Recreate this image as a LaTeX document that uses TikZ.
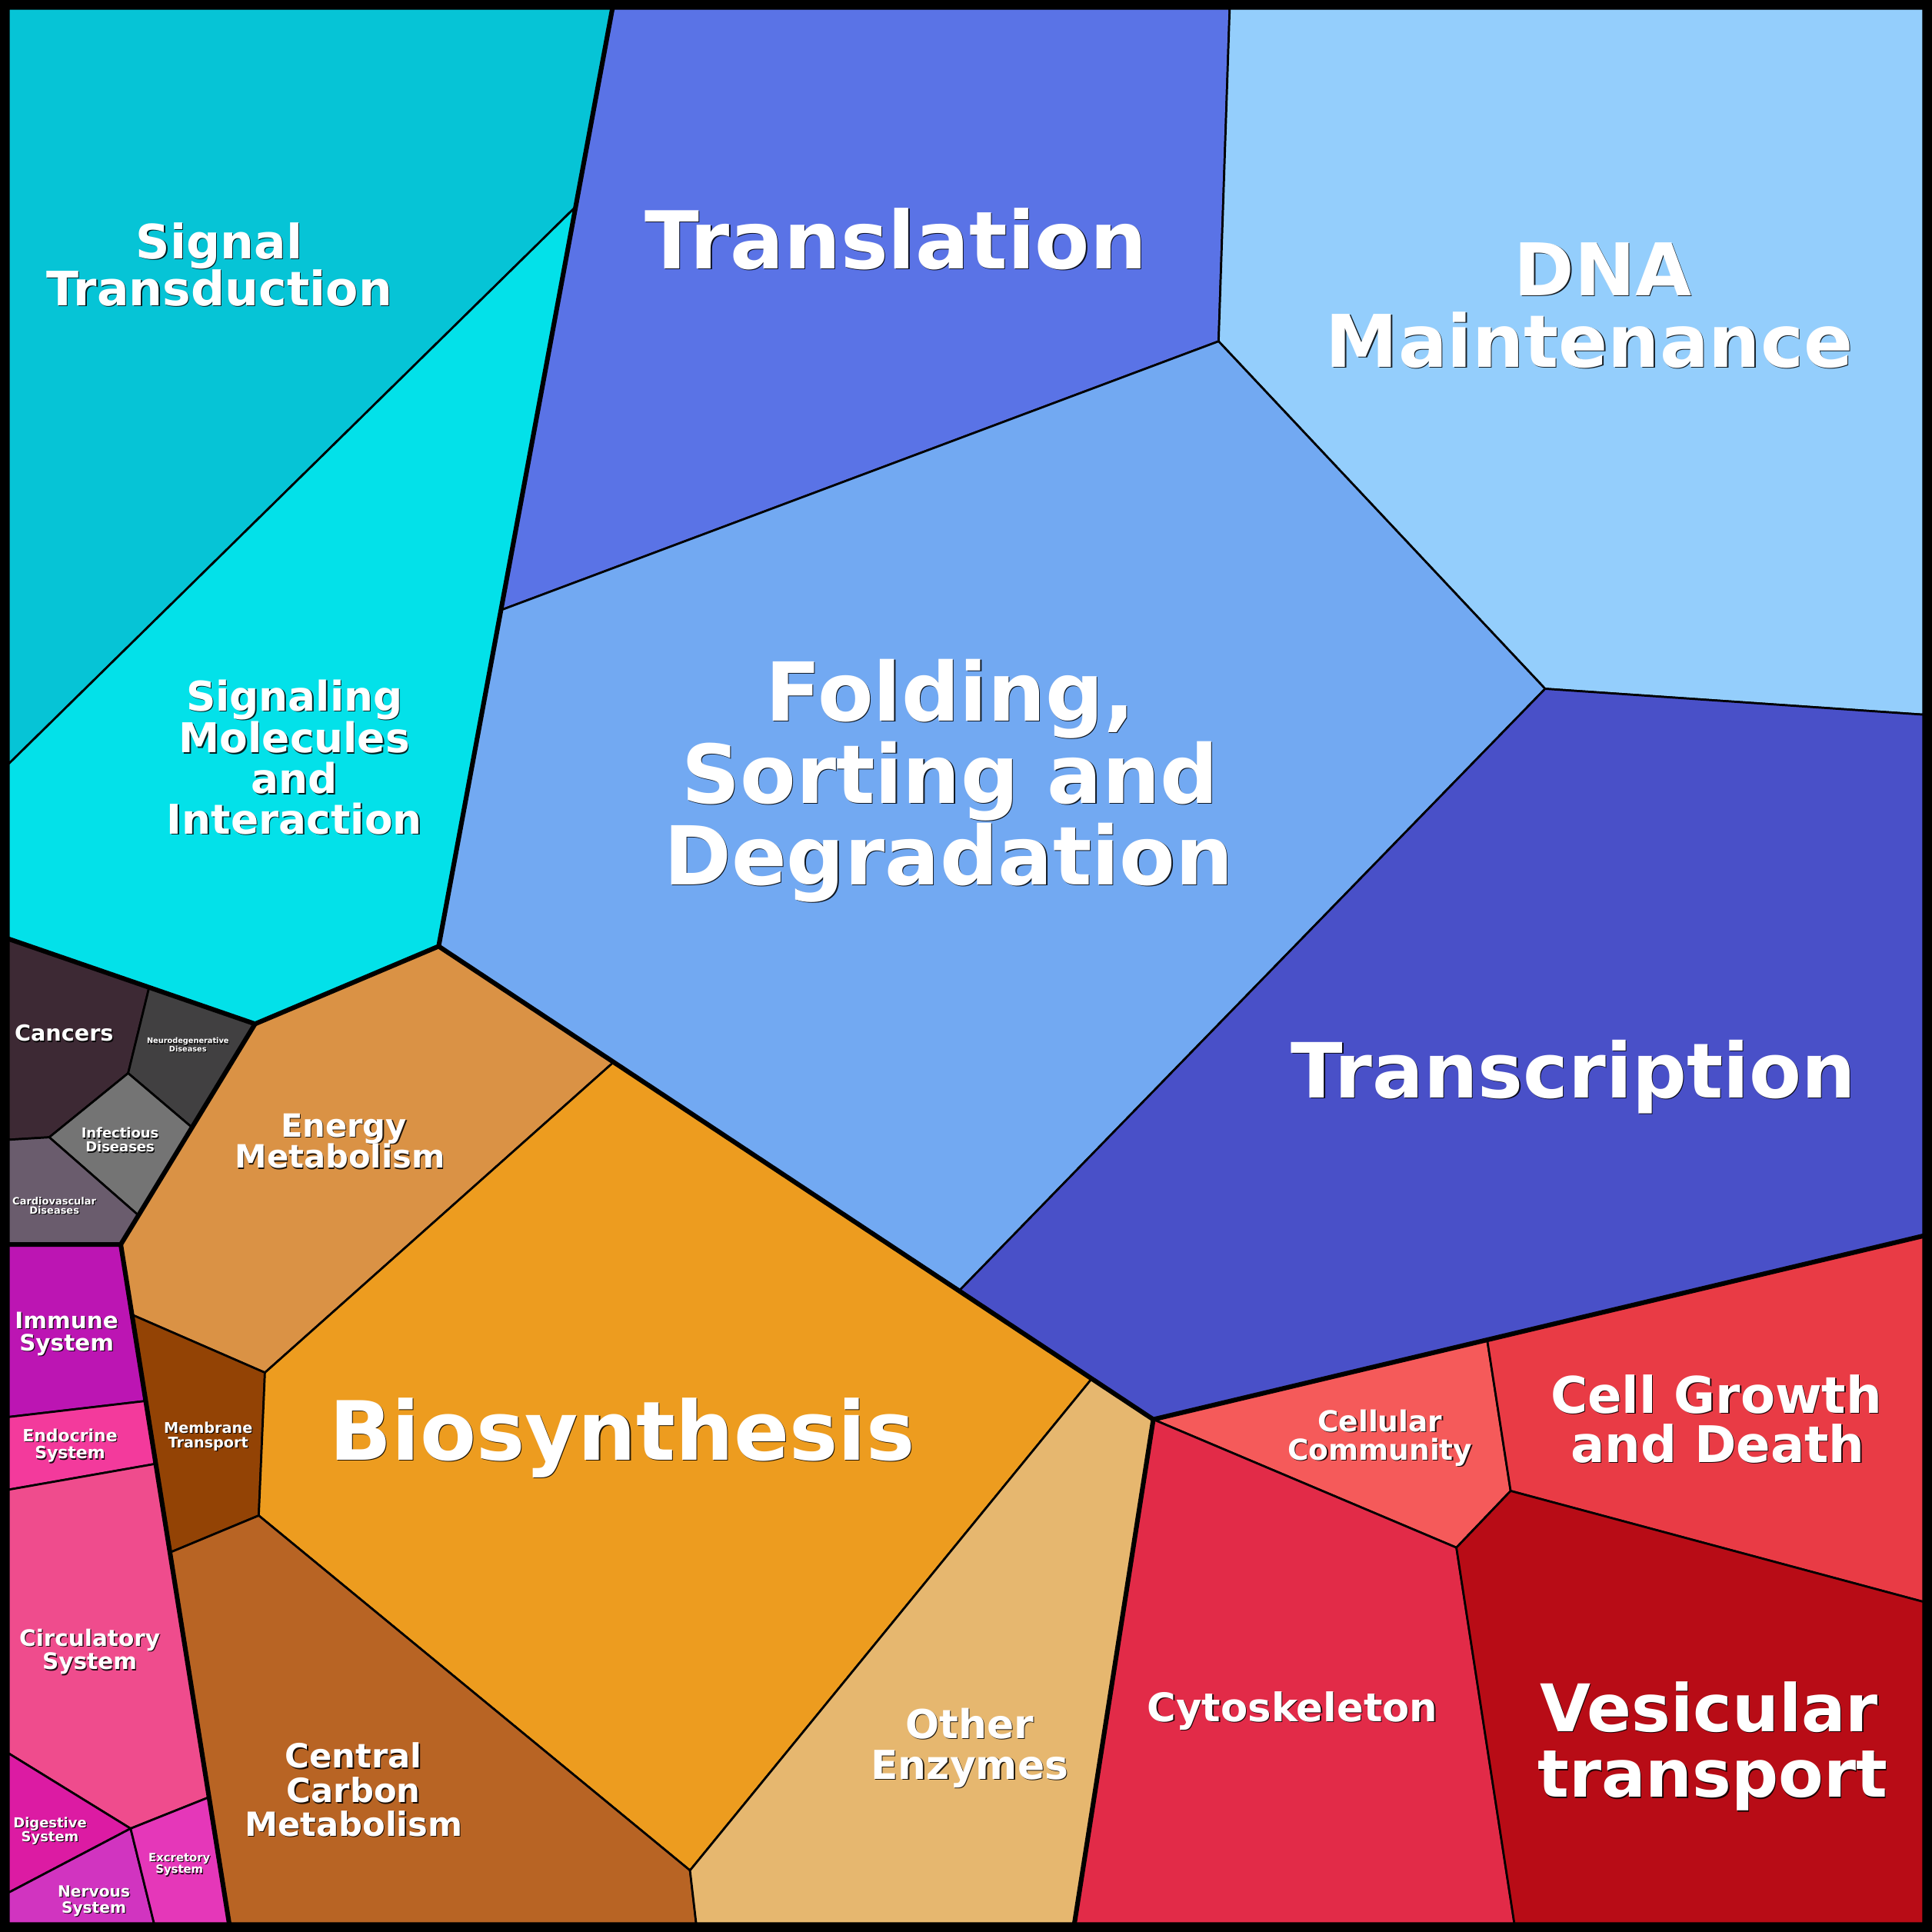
\documentclass[tikz,border=0pt]{standalone}
\usepackage{fontspec}
\setmainfont{DejaVu Sans}
\definecolor{cSig}{HTML}{06C4D6}
\definecolor{cMol}{HTML}{03E1E9}
\definecolor{cTrl}{HTML}{5A73E6}
\definecolor{cDNA}{HTML}{94CEFC}
\definecolor{cFol}{HTML}{72A9F2}
\definecolor{cTrc}{HTML}{4950C8}
\definecolor{cEne}{HTML}{DA9245}
\definecolor{cBio}{HTML}{ED9C1F}
\definecolor{cMem}{HTML}{934305}
\definecolor{cCen}{HTML}{B86424}
\definecolor{cOth}{HTML}{E6B76F}
\definecolor{cCom}{HTML}{F55A5A}
\definecolor{cGro}{HTML}{E93B45}
\definecolor{cCyt}{HTML}{E22B48}
\definecolor{cVes}{HTML}{B80C16}
\definecolor{cCan}{HTML}{3D2934}
\definecolor{cNeu}{HTML}{414041}
\definecolor{cInf}{HTML}{747474}
\definecolor{cCar}{HTML}{6A5C6D}
\definecolor{cImm}{HTML}{BC15B3}
\definecolor{cEnd}{HTML}{F33A9C}
\definecolor{cCir}{HTML}{EF4C8D}
\definecolor{cDig}{HTML}{DC1BA3}
\definecolor{cNer}{HTML}{D134C0}
\definecolor{cExc}{HTML}{E537B9}
\newcommand\tlab[5]{%
  \node[shadowtxt,font=\fontsize{#4}{#4}\selectfont\bfseries,xshift=0.8pt,yshift=-0.8pt] at (#2,#3) {#5};
  \node[labtxt,font=\fontsize{#4}{#4}\selectfont\bfseries] (#1) at (#2,#3) {#5};
}
\begin{document}
\begin{tikzpicture}[x=1pt,y=-1pt,
  cell/.style={draw=black,line width=1.7pt,line join=round},
  grp/.style={draw=black,line width=3.8pt,line join=round,line cap=round},
  labtxt/.style={text=white,inner sep=0pt,anchor=base},
  shadowtxt/.style={text=black,opacity=0.85,inner sep=0pt,anchor=base}]
\useasboundingbox (0,0) rectangle (1568,1568);
\fill[black] (0,0) rectangle (1568,1568);
% vertices
\coordinate (TL) at (7,7);
\coordinate (TR) at (1561,7);
\coordinate (BR) at (1561,1561);
\coordinate (A1) at (497,7);
\coordinate (A2) at (467,168);
\coordinate (A3) at (407,495);
\coordinate (A4) at (356,768);
\coordinate (A5) at (207,831);
\coordinate (A6) at (7,762);
\coordinate (A7) at (7,620);
\coordinate (B1) at (998,7);
\coordinate (B2) at (989,277);
\coordinate (B3) at (1254,559);
\coordinate (B4) at (1561,580);
\coordinate (B5) at (779,1047);
\coordinate (B6) at (498,862);
\coordinate (B7) at (1561,1003);
\coordinate (B8) at (936,1152);
\coordinate (B9) at (886,1119);
\coordinate (E0) at (98,1010);
\coordinate (M1) at (107.1,1067);
\coordinate (M2) at (215,1114);
\coordinate (M3) at (210,1230);
\coordinate (M4) at (137.9,1260);
\coordinate (C1) at (560,1518);
\coordinate (C2) at (565,1561);
\coordinate (C3) at (186,1561);
\coordinate (O1) at (872,1561);
\coordinate (D1) at (1207,1087.5);
\coordinate (D2) at (1226,1210);
\coordinate (D3) at (1182,1256);
\coordinate (D4) at (1561,1300);
\coordinate (D5) at (1229,1561);
\coordinate (H1) at (121,801.5);
\coordinate (H2) at (104,871);
\coordinate (H3) at (40,923);
\coordinate (H4) at (7,925);
\coordinate (H5) at (155.8,915);
\coordinate (H6) at (112,986);
\coordinate (H7) at (7,1010);
\coordinate (F1) at (118.3,1137);
\coordinate (F2) at (7,1150);
\coordinate (F3) at (126.4,1188);
\coordinate (F4) at (7,1209);
\coordinate (F5) at (169.6,1458.6);
\coordinate (F6) at (106,1484);
\coordinate (F7) at (7,1423);
\coordinate (F8) at (7,1536);
\coordinate (F9) at (125,1561);
\coordinate (F10) at (7,1561);
% cells
\filldraw[cell,fill=cSig] (TL) -- (A1) -- (A2) -- (A7) -- cycle;
\filldraw[cell,fill=cMol] (A2) -- (A3) -- (A4) -- (A5) -- (A6) -- (A7) -- cycle;
\filldraw[cell,fill=cTrl] (A1) -- (B1) -- (B2) -- (A3) -- (A2) -- cycle;
\filldraw[cell,fill=cDNA] (B1) -- (TR) -- (B4) -- (B3) -- (B2) -- cycle;
\filldraw[cell,fill=cFol] (A3) -- (B2) -- (B3) -- (B5) -- (B6) -- (A4) -- cycle;
\filldraw[cell,fill=cTrc] (B3) -- (B4) -- (B7) -- (B8) -- (B9) -- (B5) -- cycle;
\filldraw[cell,fill=cEne] (A5) -- (A4) -- (B6) -- (M2) -- (M1) -- (E0) -- cycle;
\filldraw[cell,fill=cMem] (M1) -- (M2) -- (M3) -- (M4) -- cycle;
\filldraw[cell,fill=cBio] (B6) -- (B9) -- (C1) -- (M3) -- (M2) -- cycle;
\filldraw[cell,fill=cCen] (M4) -- (M3) -- (C1) -- (C2) -- (C3) -- cycle;
\filldraw[cell,fill=cOth] (B9) -- (B8) -- (O1) -- (C2) -- (C1) -- cycle;
\filldraw[cell,fill=cCom] (B8) -- (D1) -- (D2) -- (D3) -- cycle;
\filldraw[cell,fill=cGro] (D1) -- (B7) -- (D4) -- (D2) -- cycle;
\filldraw[cell,fill=cCyt] (B8) -- (D3) -- (D5) -- (O1) -- cycle;
\filldraw[cell,fill=cVes] (D3) -- (D2) -- (D4) -- (BR) -- (D5) -- cycle;
\filldraw[cell,fill=cCan] (A6) -- (H1) -- (H2) -- (H3) -- (H4) -- cycle;
\filldraw[cell,fill=cNeu] (H1) -- (A5) -- (H5) -- (H2) -- cycle;
\filldraw[cell,fill=cInf] (H2) -- (H5) -- (H6) -- (H3) -- cycle;
\filldraw[cell,fill=cCar] (H4) -- (H3) -- (H6) -- (E0) -- (H7) -- cycle;
\filldraw[cell,fill=cImm] (H7) -- (E0) -- (F1) -- (F2) -- cycle;
\filldraw[cell,fill=cEnd] (F2) -- (F1) -- (F3) -- (F4) -- cycle;
\filldraw[cell,fill=cCir] (F4) -- (F3) -- (F5) -- (F6) -- (F7) -- cycle;
\filldraw[cell,fill=cDig] (F7) -- (F6) -- (F8) -- cycle;
\filldraw[cell,fill=cNer] (F8) -- (F6) -- (F9) -- (F10) -- cycle;
\filldraw[cell,fill=cExc] (F6) -- (F5) -- (C3) -- (F9) -- cycle;
% group borders
\draw[grp] (A1) -- (A4) -- (A5) -- (A6);
\draw[grp] (A4) -- (B8) -- (B7);
\draw[grp] (A5) -- (E0) -- (H7);
\draw[grp] (E0) -- (C3);
\draw[grp] (B8) -- (O1);
% labels
\tlab{l1a}{178}{210}{38.5}{Signal}
\tlab{l1b}{178}{248}{38.5}{Transduction}
\tlab{l2a}{239}{577}{33.3}{Signaling}
\tlab{l2b}{239}{611}{33.3}{Molecules}
\tlab{l2c}{239}{644}{33.3}{and}
\tlab{l2d}{239}{677}{33.3}{Interaction}
\tlab{l3}{727}{218}{64.8}{Translation}
\tlab{l4a}{1301}{240}{59}{DNA}
\tlab{l4b}{1290}{298}{59}{Maintenance}
\tlab{l5a}{771}{585}{66}{Folding,}
\tlab{l5b}{771}{652}{66}{Sorting and}
\tlab{l5c}{770}{718}{66}{Degradation}
\tlab{l6}{1277}{891}{61.8}{Transcription}
\tlab{l7}{505}{1185}{66.4}{Biosynthesis}
\tlab{l8a}{279}{923}{26}{Energy}
\tlab{l8b}{276}{948}{26}{Metabolism}
\tlab{l9a}{169}{1163}{12}{Membrane}
\tlab{l9b}{169}{1175}{12}{Transport}
\tlab{l10a}{287}{1435}{27}{Central}
\tlab{l10b}{287}{1463}{27}{Carbon}
\tlab{l10c}{287}{1490}{27}{Metabolism}
\tlab{l11a}{787}{1411}{32.4}{Other}
\tlab{l11b}{787}{1444}{32.4}{Enzymes}
\tlab{l12a}{1120}{1162}{23.4}{Cellular}
\tlab{l12b}{1120}{1185}{23.4}{Community}
\tlab{l13a}{1393}{1147}{41}{Cell Growth}
\tlab{l13b}{1394}{1187}{41}{and Death}
\tlab{l14}{1049}{1397}{32}{Cytoskeleton}
\tlab{l15a}{1387}{1405.5}{53.3}{Vesicular}
\tlab{l15b}{1390}{1458.6}{53.3}{transport}
\tlab{l16}{52}{845}{17.9}{Cancers}
\tlab{l17a}{152.5}{847}{6.1}{Neurodegenerative}
\tlab{l17b}{152.5}{853.3}{6.1}{Diseases}
\tlab{l18a}{97.4}{923.8}{11.2}{Infectious}
\tlab{l18b}{97.4}{935}{11.2}{Diseases}
\tlab{l19a}{44.1}{977.5}{8.1}{Cardiovascular}
\tlab{l19b}{44.1}{985}{8.1}{Diseases}
\tlab{l20a}{54.1}{1078.4}{18.4}{Immune}
\tlab{l20b}{54.1}{1096.5}{18.4}{System}
\tlab{l21a}{56.8}{1169.8}{13.7}{Endocrine}
\tlab{l21b}{56.8}{1184}{13.7}{System}
\tlab{l22a}{72.8}{1335.8}{18.4}{Circulatory}
\tlab{l22b}{72.8}{1355}{18.4}{System}
\tlab{l23a}{40.6}{1483.1}{11.2}{Digestive}
\tlab{l23b}{40.6}{1494.6}{11.2}{System}
\tlab{l24a}{76.2}{1539.3}{12.6}{Nervous}
\tlab{l24b}{76.2}{1552.6}{12.6}{System}
\tlab{l25a}{145.6}{1510.6}{9.25}{Excretory}
\tlab{l25b}{145.6}{1520.4}{9.25}{System}
\end{tikzpicture}
\end{document}
